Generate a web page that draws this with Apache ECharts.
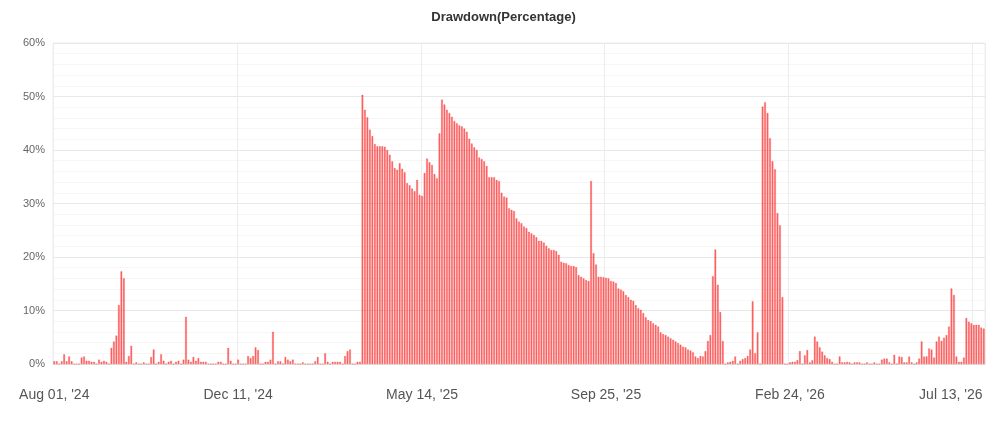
<!DOCTYPE html>
<html><head><meta charset="utf-8">
<script src="https://cdn.jsdelivr.net/npm/echarts@6/dist/echarts.min.js"></script>
<style>html,body{margin:0;padding:0;background:#fff}#c{width:1007px;height:428px}</style>
</head><body><div id="c"></div>
<script>
const tickLabels = ["Aug 01, '24","Dec 11, '24","May 14, '25","Sep 25, '25","Feb 24, '26","Jul 13, '26"];
const seg1 = [0.5,0.5,0,0.5,1.8,0.5,1.4,0.5,0,0,0,1.2,1.4,0.6,0.6,0.4,0.4,0,0.8,0.4,0.6,0.4,0,3,4.2,5.3,11,17.3,16,0.4,1.5,3.4,0,0.3,0,0,0.3,0,0,1.3,2.7,0,0.4,1.8,0.6,0,0.4,0.6,0,0.4,0.6,0,0.8,8.8,0.8,0.4,1.3,0.6,1.1,0.4,0.4,0.4,0,0,0,0,0.4,0.4,0,0,3,0.6,0,0,0.8];
const seg2 = [0,0,0,1.5,1.1,1.5,3.1,2.6,0,0,0.4,0.4,0.8,6.0,0,0.5,0.5,0,1.3,0.8,0.5,0.8,0,0,0,0.3,0,0,0,0,0.5,1.3,0,0,2.0,0.4,0,0.4,0.4,0.4,0.4,0,1.5,2.4,2.7,0,0,0.4,0.4];
const seg3 = [50.3,47.5,46.1,43.8,42.6,41.1,40.7,40.7,40.7,40.6,40.0,39.1,37.9,36.6,36.3,37.5,36.5,35.8,33.8,33.4,32.8,32.3,34.4,31.6,31.4,35.7,38.4,37.7,37.2,35.5,34.7,43.1,49.4,48.5,47.5,46.9,46.2,45.4,45.0,44.6,44.4,44.0,43.4,42.1,41.2,40.5,40.0,38.6,38.3,37.9,37.0,34.9,34.9,34.9,34.4,34.2,32.0,31.3,31.1,29.1,28.8,28.6,27.2,26.6,26.3,25.7,25.4,24.7,24.4,24.1,23.7,23.0,23.0];
const seg4 = [22.7,22.1,21.6,21.3,21.3,21.1,20.4,19.1,18.9,18.8,18.5,18.3,18.3,18.1,16.6,16.3,16.0,15.7,15.5,34.2,20.7,18.6,16.3,16.3,16.2,16.1,16.0,15.5,15.4];
const seg5 = [15.1,14.1,13.9,13.6,12.9,12.5,12.0,11.8,11.0,10.4,10.1,9.5,8.7,8.2,8.0,7.6,7.3,7.0,5.9,5.6,5.4,5.1,4.8,4.5,4.2,3.9,3.6,3.2,3.1,2.7,2.5,2.2,1.4,1.1,1.5,1.4,2.4,4.3,5.4,16.4,21.4,14.8,9.7,4.3,0,0.3,0.4,0.6,1.4,0,0.6,0.9,1.1,1.5,2.7,11.7,2.0,5.9,0,48.1,48.9,46.9,42.2,37.9,36.4,28.2,25.9,12.5,0,0,0.3,0.4];
const seg6 = [0.4,0.7,2.4,0,1.6,2.6,0.3,0.7,5.1,4.2,3.1,2.3,1.6,1.1,0.9,0.4,0,0,1.4,0.3,0.3,0.4,0.3,0,0.3,0.3,0.3,0,0,0.3,0,0,0.3,0,0,0.8,1.0,1.0,0.3,0,1.7,0,1.4,1.3,0.3,0.3,1.4,0.3,0,0.3,1.0,4.2,1.4,1.4,2.9,2.7,1.2,4.2,5.1,4.3,4.9,5.4,7.0,14.1,12.9,1.4,0.4,0.4,1.2,8.6,7.9,7.6,7.3,7.3,7.3,6.8,6.6];
const values = [].concat(seg1, seg2, seg3, seg4, seg5, seg6);
const total = values.length;
const step = Math.round(0.99 * total / 5);
const categories = values.map((v, i) => String(i));
const chart = echarts.init(document.getElementById('c'));
chart.setOption({
  animation: false,
  title: {text: 'Drawdown(Percentage)', left: 'center', top: 6,
    textStyle: {fontFamily: 'Liberation Sans, Arial', fontSize: 13, fontWeight: 'bold', color: '#333'}},
  grid: {left: 53, right: 22, top: 43, bottom: 64, show: true, borderColor: '#eee', borderWidth: 1},
  xAxis: {type: 'category', data: categories, boundaryGap: true,
    axisLine: {lineStyle: {color: '#ddd'}}, axisTick: {show: false},
    axisLabel: {interval: step - 1, margin: 24, color: '#555', fontSize: 14, fontFamily: 'Liberation Sans, Arial',
      formatter: (v, i) => {
        const k = Math.round(i / step);
        if (k === tickLabels.length - 1) return '{last|' + tickLabels[k] + '}';
        return tickLabels[k] || '';
      },
      rich: {last: {padding: [0, 46, 0, 0], fontSize: 14, color: '#555', fontFamily: 'Liberation Sans, Arial'}}},
    splitLine: {show: true, interval: step - 1, lineStyle: {color: '#ececec'}}},
  yAxis: {type: 'value', min: 0, max: 60, interval: 10,
    axisLabel: {formatter: '{value}%', color: '#666', fontSize: 11, fontFamily: 'Liberation Sans, Arial'},
    axisLine: {show: false}, axisTick: {show: false},
    splitLine: {lineStyle: {color: '#e8e8e8'}},
    minorTick: {show: false, splitNumber: 5},
    minorSplitLine: {show: true, lineStyle: {color: '#f6f6f6'}}},
  series: [{type: 'bar', data: values, barWidth: '65%',
    itemStyle: {color: 'rgba(255,70,70,0.8)', borderColor: 'rgba(240,40,40,0.9)', borderWidth: 0.3}}]
});
</script></body></html>
